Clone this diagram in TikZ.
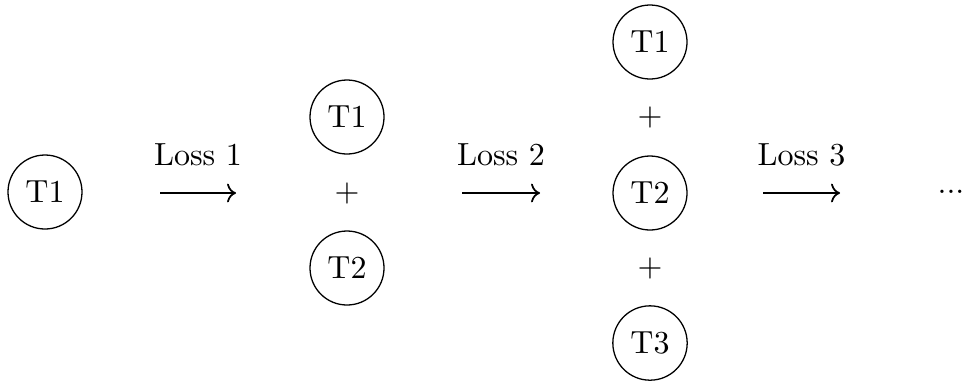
\documentclass[tikz,border=0pt]{standalone}
\usetikzlibrary{arrows.meta}
\tikzset{task/.style={draw,circle,inner sep=3.33pt},
  lossarrow/.style={-{Computer Modern Rightarrow},line width=.55pt},
  losslabel/.style={above=4.8pt,inner sep=3.33pt},
  plussign/.style={inner sep=1pt}}
\begin{document}
\begin{tikzpicture}[x=.3125pt,y=-.3125pt]
\path[use as bounding box] (0,0) rectangle (964,381);
% stage 1
\node[task] (a1) at (45,192) {T1};
% stage 2
\node[task] (b1) at (347,117) {T1};
\node[plussign] (bp) at (347,193) {$+$};
\node[task] (b2) at (347,268) {T2};
% stage 3
\node[task] (c1) at (650,42) {T1};
\node[plussign] (cp1) at (650,117) {$+$};
\node[task] (c2) at (650,193) {T2};
\node[plussign] (cp2) at (650,268) {$+$};
\node[task] (c3) at (650,343) {T3};
\node[inner sep=1pt] (more) at (951,192) {...};
% losses between stages
\foreach \i/\xa/\xb in {1/160/236,2/462/540,3/763/840} {
\coordinate (s\i) at (\xa,193); \coordinate (e\i) at (\xb,193);
\draw[lossarrow] (s\i) -- (e\i) node[losslabel,midway] (loss\i) {Loss \i};}
\end{tikzpicture}
\end{document}
